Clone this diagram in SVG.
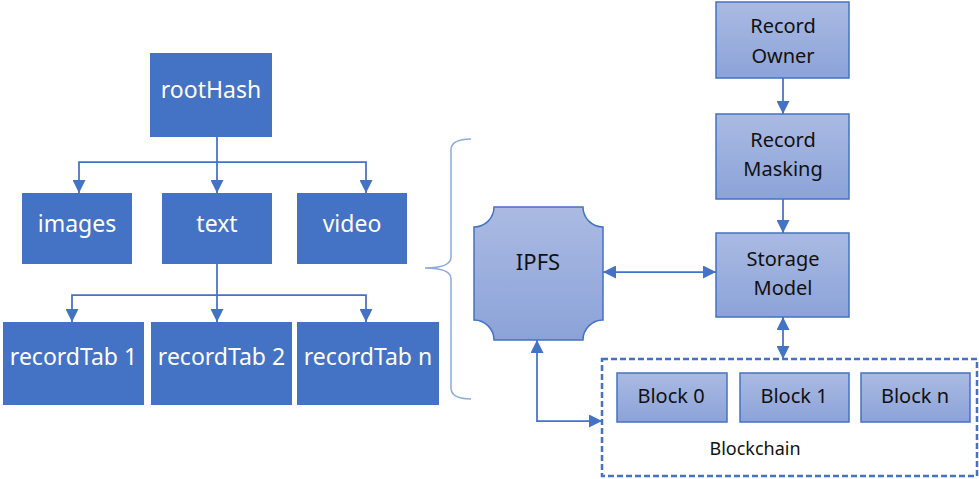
<svg xmlns="http://www.w3.org/2000/svg" width="979" height="479" viewBox="0 0 979 479">
  <style>
    .solid { fill: #4472C4; }
    .soft { fill: url(#softBlue); stroke: #4472C4; stroke-width: 1.5; }
    .wlabel { font-family: "Noto Sans", "Open Sans", sans-serif; font-size: 23px; fill: #FFFFFF; text-anchor: middle; }
    .dlabel { font-family: "Noto Sans", "Open Sans", sans-serif; font-size: 20px; fill: #111111; text-anchor: middle; }
    .link { fill: none; stroke: #4472C4; stroke-width: 1.75; }
  </style>
  <defs>
    <linearGradient id="softBlue" x1="0" y1="0" x2="0" y2="1">
      <stop offset="0" stop-color="#AABAE2"/>
      <stop offset="1" stop-color="#8CA3D9"/>
    </linearGradient>
    <marker id="head" viewBox="0 0 10 10" refX="10" refY="5" markerUnits="userSpaceOnUse" markerWidth="13" markerHeight="13" orient="auto-start-reverse">
      <path d="M0,0 L10,5 L0,10 z" fill="#4472C4"/>
    </marker>
  </defs>

  <rect width="979" height="479" fill="#FFFFFF"/>

  <!-- data tree -->
  <g id="rootHash"><rect class="solid" x="150" y="53" width="122" height="84"/><text class="wlabel" x="211" y="98">rootHash</text></g>
  <g id="images"><rect class="solid" x="22" y="193" width="110" height="71"/><text class="wlabel" x="77" y="232">images</text></g>
  <g id="text"><rect class="solid" x="162" y="193" width="110" height="71"/><text class="wlabel" x="217" y="232">text</text></g>
  <g id="video"><rect class="solid" x="297" y="193" width="110" height="71"/><text class="wlabel" x="352" y="232">video</text></g>
  <g id="recordTab1"><rect class="solid" x="3" y="322" width="141" height="83"/><text class="wlabel" x="73.5" y="365">recordTab 1</text></g>
  <g id="recordTab2"><rect class="solid" x="151" y="322" width="141" height="83"/><text class="wlabel" x="221.5" y="365">recordTab 2</text></g>
  <g id="recordTabN"><rect class="solid" x="297" y="322" width="142" height="83"/><text class="wlabel" x="368" y="365">recordTab n</text></g>

  <!-- brace grouping the tree -->
  <g id="brace">
    <path d="M471,139 Q451,139 451,150 V257 Q451,268 425,268 Q451,268 451,279 V388 Q451,399 471,399" fill="none" stroke="#8FAADC" stroke-width="1.5"/>
  </g>

  <!-- storage side -->
  <g id="ipfs">
    <path class="soft" d="M494,207 H583 A20,20 0 0 0 603,227 V320 A20,20 0 0 0 583,340 H494 A20,20 0 0 0 474,320 V227 A20,20 0 0 0 494,207 Z"/>
    <text class="dlabel" x="538" y="270" style="font-size:22px">IPFS</text>
  </g>
  <g id="recordOwner">
    <rect class="soft" x="716" y="2" width="133" height="76"/>
    <text class="dlabel" x="783" y="33">Record</text>
    <text class="dlabel" x="783" y="63">Owner</text>
  </g>
  <g id="recordMasking">
    <rect class="soft" x="716" y="114" width="133" height="85"/>
    <text class="dlabel" x="783" y="147">Record</text>
    <text class="dlabel" x="783" y="176">Masking</text>
  </g>
  <g id="storageModel">
    <rect class="soft" x="716" y="233" width="133" height="84"/>
    <text class="dlabel" x="783" y="266">Storage</text>
    <text class="dlabel" x="783" y="295">Model</text>
  </g>
  <g id="blockchain">
    <rect x="602" y="359" width="375" height="117" fill="none" stroke="#4472C4" stroke-width="2.5" stroke-dasharray="6 3"/>
    <text class="dlabel" x="755" y="455" style="font-size:18px">Blockchain</text>
  </g>
  <g id="block0"><rect class="soft" x="617" y="373" width="110" height="49"/><text class="dlabel" x="671" y="403">Block 0</text></g>
  <g id="block1"><rect class="soft" x="740" y="373" width="109" height="49"/><text class="dlabel" x="794" y="403">Block 1</text></g>
  <g id="blockN"><rect class="soft" x="861" y="373" width="109" height="49"/><text class="dlabel" x="915" y="403">Block n</text></g>

  <!-- connectors -->
  <g id="connectors">
    <path class="link" d="M217,137 V193" marker-end="url(#head)"/>
    <path class="link" d="M217,162 H79 V193" marker-end="url(#head)"/>
    <path class="link" d="M217,162 H366 V193" marker-end="url(#head)"/>
    <path class="link" d="M217,264 V322" marker-end="url(#head)"/>
    <path class="link" d="M217,295 H72 V322" marker-end="url(#head)"/>
    <path class="link" d="M217,295 H366 V322" marker-end="url(#head)"/>
    <path class="link" d="M783,78 V114" marker-end="url(#head)"/>
    <path class="link" d="M783,199 V233" marker-end="url(#head)"/>
    <path class="link" d="M603,272 H716" marker-start="url(#head)" marker-end="url(#head)"/>
    <path class="link" d="M783,317 V359" marker-start="url(#head)" marker-end="url(#head)"/>
    <path class="link" d="M537,340 V421 H602" marker-start="url(#head)" marker-end="url(#head)"/>
  </g>
</svg>
